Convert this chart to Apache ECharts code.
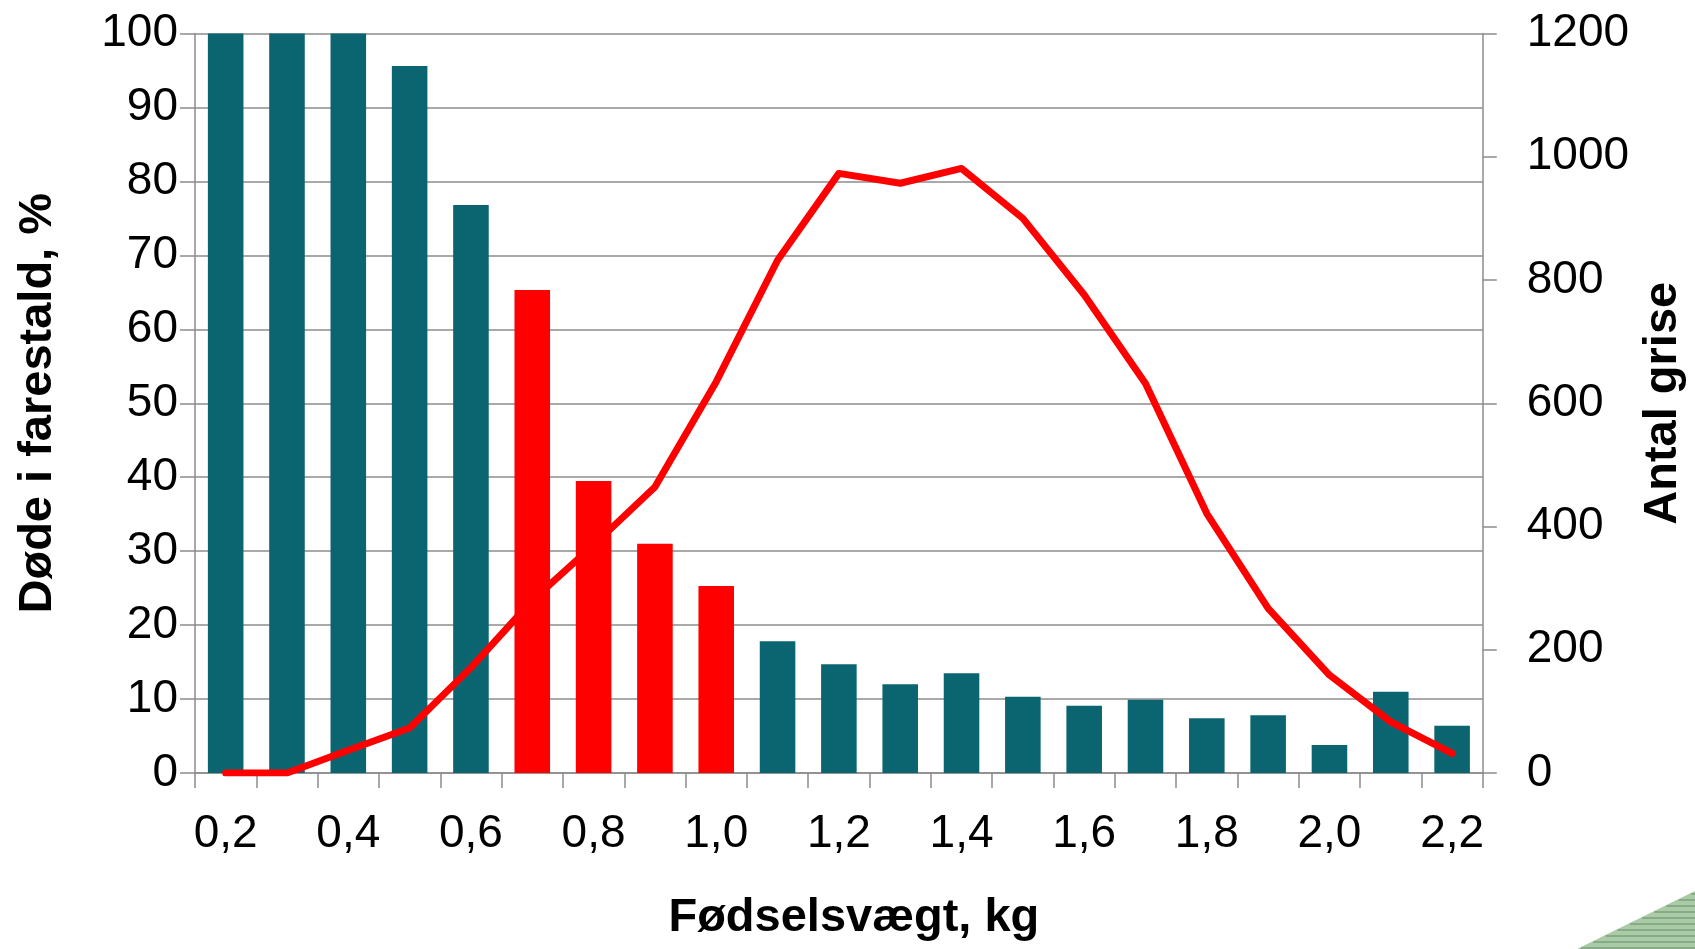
<!DOCTYPE html>
<html>
<head>
<meta charset="utf-8">
<script src="https://cdn.jsdelivr.net/npm/echarts@6/dist/echarts.min.js"></script>
<style>
html,body{margin:0;padding:0;background:#fff;overflow:hidden;}
#chart{width:1695px;height:949px;}
</style>
</head>
<body>
<div id="chart"></div>
<script>
// Data
const categories = ['0,2','0,3','0,4','0,5','0,6','0,7','0,8','0,9','1,0','1,1','1,2','1,3','1,4','1,5','1,6','1,7','1,8','1,9','2,0','2,1','2,2'];
const deadPct = [100, 100, 100, 95.6, 76.8, 65.3, 39.5, 31.0, 25.3, 17.8, 14.7, 12.0, 13.5, 10.3, 9.1, 9.9, 7.4, 7.8, 3.8, 11.0, 6.4];
const highlighted = ['0,7','0,8','0,9','1,0'];
const pigCount = [0, 0, 37, 73, 171, 280, 370, 464, 635, 832, 973, 957, 981, 900, 776, 632, 421, 267, 159, 83, 32];
const leftTicks = {min: 0, max: 100, interval: 10};
const rightTicks = {min: 0, max: 1200, interval: 200};

const teal = '#0b6570';
const red = '#ff0000';
const gray = '#8c8c8c';
const font = '"Liberation Sans", Arial, sans-serif';

const chart = echarts.init(document.getElementById('chart'));

// decorative striped wedge (bottom-right corner)
const deco = [];
const W = 1695, H = 949;
const edgeX = y => 1577 + (H - y) * (118 / 58);
deco.push({type:'polygon', shape:{points:[[1577,H],[W,891],[W,H]]}, style:{fill:'#a9cca6'}, silent:true});
for (let y = 894; y < H; y += 6) {
  deco.push({type:'line', shape:{x1:edgeX(y)+2, y1:y, x2:W, y2:y}, style:{stroke:'#7f9f7e', lineWidth:1.5}, silent:true});
}

chart.setOption({
  backgroundColor: '#fff',
  animation: false,
  grid: {left: 195, right: 201, top: 33.5, bottom: 176, containLabel: false},
  xAxis: {
    type: 'category',
    data: categories,
    boundaryGap: true,
    name: 'Fødselsvægt, kg',
    nameLocation: 'middle',
    nameGap: 122,
    nameTextStyle: {fontFamily: font, fontSize: 47, fontWeight: 'bold', color: '#000', padding: [0,0,0,30]},
    axisLine: {lineStyle: {color: gray, width: 1.5}},
    axisTick: {show: true, interval: 0, alignWithLabel: false, length: 15, lineStyle: {color: gray, width: 1.5}},
    axisLabel: {interval: 1, fontFamily: font, fontSize: 46, color: '#000', margin: 38},
    splitLine: {show: false}
  },
  yAxis: [
    {
      type: 'value',
      min: leftTicks.min, max: leftTicks.max, interval: leftTicks.interval,
      name: 'Døde i farestald, %',
      nameLocation: 'middle',
      nameGap: 133,
      nameRotate: 90,
      nameTextStyle: {fontFamily: font, fontSize: 47, fontWeight: 'bold', color: '#000'},
      axisLine: {show: true, lineStyle: {color: gray, width: 1.5}},
      axisTick: {show: true, length: 15, lineStyle: {color: gray, width: 1.5}},
      axisLabel: {fontFamily: font, fontSize: 46, color: '#000', margin: 17},
      splitLine: {show: true, lineStyle: {color: gray, width: 1.5}}
    },
    {
      type: 'value',
      position: 'right',
      min: rightTicks.min, max: rightTicks.max, interval: rightTicks.interval,
      name: 'Antal grise',
      nameLocation: 'middle',
      nameGap: 150,
      nameRotate: 90,
      nameTextStyle: {fontFamily: font, fontSize: 47, fontWeight: 'bold', color: '#000'},
      axisLine: {show: true, lineStyle: {color: gray, width: 1.5}},
      axisTick: {show: true, length: 14, lineStyle: {color: gray, width: 1.5}},
      axisLabel: {fontFamily: font, fontSize: 46, color: '#000', margin: 44, formatter: v => String(v)},
      splitLine: {show: false}
    }
  ],
  series: [
    {
      type: 'bar',
      yAxisIndex: 0,
      barCategoryGap: '42%',
      data: deadPct.map((v, i) => ({
        value: v,
        itemStyle: {color: highlighted.includes(categories[i]) ? red : teal}
      })),
      z: 2
    },
    {
      type: 'line',
      yAxisIndex: 1,
      data: pigCount,
      symbol: 'none',
      lineStyle: {color: red, width: 7, cap: 'round', join: 'round'},
      z: 3
    }
  ],
  graphic: deco
});
</script>
</body>
</html>
